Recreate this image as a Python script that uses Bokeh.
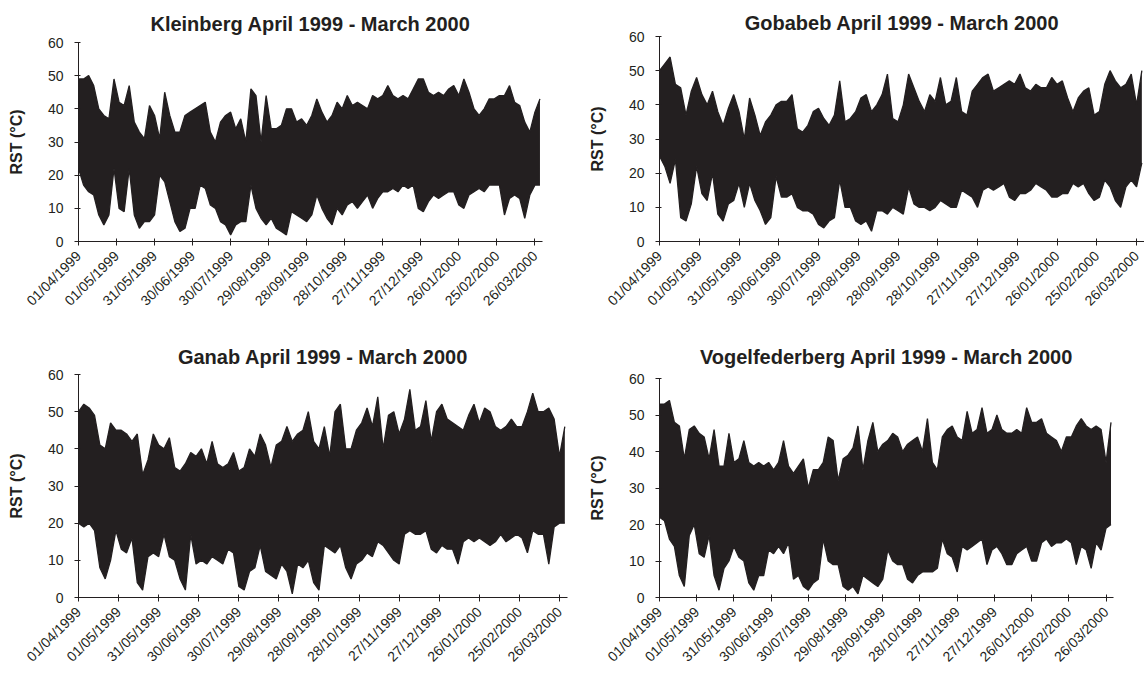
import math
from bokeh.plotting import figure
from bokeh.layouts import column, row
from bokeh.models import FixedTicker, Range1d
from bokeh.embed import file_html
from bokeh.resources import INLINE

# ---------------- data ----------------
# sample days (days since 01/04/1999), one reading of the daily envelope every 4 days
sample_days = list(range(0, 365, 4))

tick_days = [0, 30, 60, 90, 120, 150, 180, 210, 240, 270, 300, 330, 360]
tick_labels = ["01/04/1999", "01/05/1999", "31/05/1999", "30/06/1999", "30/07/1999",
               "29/08/1999", "28/09/1999", "28/10/1999", "27/11/1999", "27/12/1999",
               "26/01/2000", "25/02/2000", "26/03/2000"]
y_ticks = [0, 10, 20, 30, 40, 50, 60]

station_titles = ["Kleinberg April 1999 - March 2000", "Gobabeb April 1999 - March 2000",
                  "Ganab April 1999 - March 2000", "Vogelfederberg April 1999 - March 2000"]

kleinberg_max = [49, 49, 50, 47, 40, 38, 37, 49, 42, 41,
                 47, 36, 33, 31, 41, 38, 31, 45, 38, 33,
                 33, 38, 39, 40, 41, 42, 33, 30, 36, 38,
                 39, 34, 37, 30, 46, 44, 30, 44, 34, 34,
                 35, 40, 40, 36, 37, 35, 38, 43, 39, 36,
                 38, 42, 40, 44, 41, 42, 41, 40, 44, 43,
                 44, 47, 44, 43, 44, 43, 46, 49, 49, 45,
                 44, 45, 44, 46, 47, 44, 49, 45, 40, 38,
                 40, 43, 43, 44, 44, 47, 42, 41, 36, 33,
                 39, 43]
kleinberg_min = [22, 17, 15, 14, 8, 5, 8, 22, 10, 9,
                 22, 8, 4, 6, 6, 8, 20, 18, 12, 6,
                 3, 4, 10, 10, 17, 16, 11, 10, 6, 5,
                 2, 5, 6, 6, 17, 10, 7, 5, 7, 4,
                 3, 2, 9, 8, 7, 6, 8, 14, 10, 7,
                 5, 10, 8, 11, 12, 10, 12, 14, 10, 13,
                 15, 15, 16, 15, 17, 16, 17, 10, 9, 12,
                 14, 13, 14, 15, 15, 11, 10, 14, 15, 16,
                 15, 17, 17, 17, 8, 13, 14, 13, 7, 14,
                 17, 17]

gobabeb_max = [50, 52, 54, 46, 45, 37, 44, 48, 43, 40,
               44, 38, 34, 39, 43, 38, 30, 42, 37, 31,
               35, 37, 40, 41, 41, 43, 33, 32, 34, 38,
               39, 36, 34, 37, 47, 35, 36, 38, 42, 43,
               38, 40, 43, 49, 36, 35, 40, 49, 45, 41,
               38, 43, 41, 48, 40, 41, 48, 38, 37, 44,
               46, 48, 49, 44, 45, 46, 47, 46, 49, 45,
               44, 46, 45, 45, 48, 46, 47, 42, 38, 42,
               44, 45, 37, 38, 46, 50, 47, 45, 46, 49,
               40, 50]
gobabeb_min = [25, 22, 17, 24, 7, 6, 11, 22, 14, 12,
               20, 8, 6, 11, 12, 17, 10, 17, 12, 9,
               5, 7, 19, 13, 13, 14, 10, 9, 9, 8,
               5, 4, 6, 7, 18, 10, 10, 6, 5, 6,
               3, 9, 9, 8, 10, 9, 8, 16, 11, 10,
               10, 9, 10, 12, 11, 10, 10, 15, 14, 13,
               10, 15, 16, 15, 16, 17, 13, 12, 14, 14,
               15, 17, 16, 15, 13, 13, 14, 14, 17, 16,
               17, 14, 12, 13, 18, 16, 12, 10, 16, 18,
               16, 23]

ganab_max = [50, 52, 51, 49, 41, 40, 47, 45, 45, 44,
             42, 44, 33, 37, 44, 41, 40, 43, 35, 34,
             36, 39, 38, 40, 36, 42, 36, 35, 36, 39,
             34, 35, 40, 38, 44, 41, 35, 41, 42, 46,
             42, 44, 45, 50, 42, 40, 46, 38, 50, 52,
             40, 40, 45, 47, 51, 46, 54, 40, 49, 50,
             44, 48, 56, 45, 46, 53, 42, 50, 52, 48,
             47, 46, 45, 49, 52, 47, 51, 50, 46, 45,
             46, 48, 46, 46, 50, 55, 50, 50, 51, 48,
             38, 46]
ganab_min = [20, 19, 20, 18, 8, 5, 10, 18, 13, 12,
             16, 4, 2, 11, 12, 11, 17, 11, 10, 5,
             2, 17, 9, 10, 9, 11, 10, 9, 13, 12,
             3, 2, 7, 8, 14, 7, 6, 5, 9, 7,
             1, 9, 8, 10, 4, 2, 14, 13, 12, 14,
             8, 5, 9, 10, 12, 11, 15, 14, 12, 10,
             9, 17, 18, 17, 17, 18, 13, 12, 14, 13,
             13, 9, 15, 16, 15, 16, 15, 14, 15, 17,
             15, 16, 17, 16, 12, 18, 17, 17, 9, 19,
             20, 20]

vogelfederberg_max = [53, 53, 54, 48, 47, 38, 46, 47, 45, 44,
                      38, 46, 36, 36, 45, 37, 38, 43, 37, 36,
                      37, 36, 37, 35, 37, 43, 36, 34, 36, 38,
                      30, 35, 35, 37, 44, 43, 32, 38, 39, 41,
                      47, 35, 43, 48, 40, 42, 43, 45, 44, 40,
                      42, 43, 44, 40, 49, 37, 35, 44, 46, 47,
                      44, 43, 51, 45, 46, 52, 45, 46, 50, 46,
                      45, 45, 46, 45, 52, 48, 48, 49, 45, 44,
                      43, 40, 44, 44, 47, 49, 47, 46, 47, 46,
                      37, 48]
vogelfederberg_min = [22, 21, 16, 14, 6, 3, 17, 20, 12, 11,
                      17, 6, 2, 8, 10, 14, 11, 10, 4, 2,
                      6, 6, 13, 12, 14, 12, 15, 5, 6, 3,
                      2, 4, 5, 16, 10, 9, 9, 3, 2, 3,
                      1, 6, 5, 4, 3, 5, 13, 10, 9, 9,
                      5, 4, 6, 7, 7, 7, 8, 16, 12, 11,
                      7, 14, 13, 14, 15, 16, 9, 13, 14, 12,
                      9, 9, 12, 13, 14, 10, 10, 15, 16, 14,
                      15, 15, 16, 15, 9, 14, 13, 8, 15, 13,
                      19, 20]

for s in (kleinberg_max, kleinberg_min, gobabeb_max, gobabeb_min,
          ganab_max, ganab_min, vogelfederberg_max, vogelfederberg_min):
    assert len(s) == len(sample_days), len(s)

# ---------------- styling ----------------
INK = "#231f20"
FONT = "Liberation Sans"


def panel(title, vmax, vmin, width, height, left, right, top, bottom, title_standoff):
    p = figure(width=width, height=height,
               x_range=Range1d(0, 366), y_range=Range1d(0, 60),
               output_backend="svg", toolbar_location=None, tools="",
               min_border_left=left, min_border_right=right,
               min_border_top=top, min_border_bottom=bottom)
    p.outline_line_color = None
    p.background_fill_color = "white"
    p.border_fill_color = "white"
    p.xgrid.visible = False
    p.ygrid.visible = False

    p.title.text = title
    p.title.align = "center"
    p.title.text_font = FONT
    p.title.text_font_size = "20px"
    p.title.text_font_style = "bold"
    p.title.text_color = INK
    p.title.standoff = title_standoff

    p.varea(x=sample_days, y1=vmin, y2=vmax, fill_color=INK, fill_alpha=1)
    p.line(sample_days, vmax, line_color=INK, line_width=1.3)
    p.line(sample_days, vmin, line_color=INK, line_width=1.3)

    xa = p.xaxis[0]
    xa.ticker = FixedTicker(ticks=tick_days)
    xa.major_label_overrides = {d: lab for d, lab in zip(tick_days, tick_labels)}
    xa.major_label_orientation = math.pi / 4
    xa.minor_tick_line_color = None
    xa.major_tick_in = 3
    xa.major_tick_out = 4
    xa.major_label_standoff = 8

    ya = p.yaxis[0]
    ya.ticker = FixedTicker(ticks=y_ticks)
    ya.minor_tick_line_color = None
    ya.major_tick_in = 2
    ya.major_tick_out = 4
    ya.major_label_standoff = 11
    ya.axis_label = "RST (°C)"
    ya.axis_label_text_font = FONT
    ya.axis_label_text_font_size = "16px"
    ya.axis_label_text_font_style = "bold"
    ya.axis_label_text_color = INK
    ya.axis_label_standoff = 20

    for ax in (xa, ya):
        ax.axis_line_color = INK
        ax.major_tick_line_color = INK
        ax.major_label_text_font = FONT
        ax.major_label_text_font_size = "14px"
        ax.major_label_text_color = INK
    return p


p1 = panel(station_titles[0], kleinberg_max, kleinberg_min,
           575, 320, 78, 33, 42, 79, 15)
p2 = panel(station_titles[1], gobabeb_max, gobabeb_min,
           569, 320, 84, 0, 36, 79, 6)
p3 = panel(station_titles[2], ganab_max, ganab_min,
           575, 353, 78, 8, 54, 74, 14)
p4 = panel(station_titles[3], vogelfederberg_max, vogelfederberg_min,
           569, 353, 84, 31, 58, 74, 21)

layout = column(row(column(p1), column(p2)), row(column(p3), column(p4)))
open("out.html", "w").write(file_html(layout, INLINE))
